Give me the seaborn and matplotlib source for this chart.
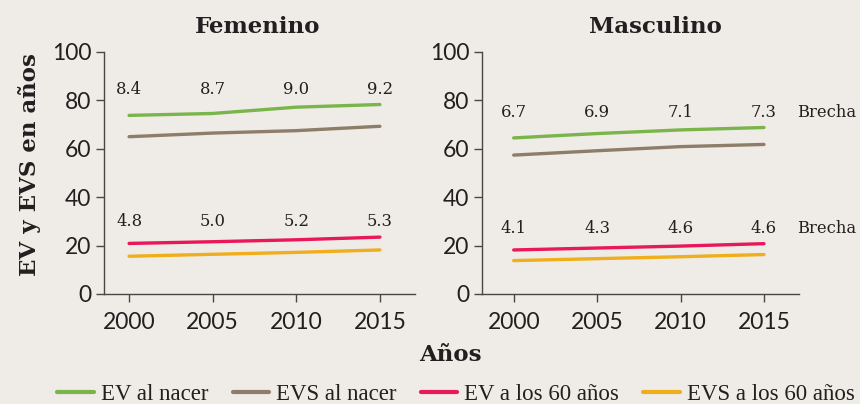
"""Esperanza de vida (EV) y esperanza de vida saludable (EVS), por sexo."""

import matplotlib
matplotlib.use("Agg")

import matplotlib.pyplot as plt
import pandas as pd
import seaborn as sns

# ── Data ─────────────────────────────────────────────────────────────────────
YEARS = [2000, 2005, 2010, 2015]
SERIES = ["EV al nacer", "EVS al nacer", "EV a los 60 años", "EVS a los 60 años"]

FEM_EV_NACER = [73.8, 74.6, 77.2, 78.3]
FEM_EVS_NACER = [65.0, 66.5, 67.5, 69.3]
FEM_EV_60 = [20.9, 21.6, 22.4, 23.5]
FEM_EVS_60 = [15.6, 16.4, 17.2, 18.2]
FEM_BRECHA_NACER = ["8.4", "8.7", "9.0", "9.2"]
FEM_BRECHA_60 = ["4.8", "5.0", "5.2", "5.3"]

MAS_EV_NACER = [64.5, 66.3, 67.8, 68.8]
MAS_EVS_NACER = [57.4, 59.2, 60.9, 61.8]
MAS_EV_60 = [18.2, 19.0, 19.8, 20.8]
MAS_EVS_60 = [13.8, 14.6, 15.4, 16.3]
MAS_BRECHA_NACER = ["6.7", "6.9", "7.1", "7.3"]
MAS_BRECHA_60 = ["4.1", "4.3", "4.6", "4.6"]

# ── Style ────────────────────────────────────────────────────────────────────
sns.set_theme(style="ticks")
_BG = "#efebe6"
_INK = "#231f20"
_AXIS = "#4a4646"
_COLORS = ["#79b54a", "#8d7d69", "#e8185a", "#f0ae1c"]
_SLAB = "DejaVu Serif"
plt.rcParams["font.family"] = ["Lato", "DejaVu Sans"]


def _long(ev, evs, ev60, evs60):
    rows = []
    for name, vals in zip(SERIES, [ev, evs, ev60, evs60]):
        for yr, v in zip(YEARS, vals):
            rows.append({"Año": yr, "Serie": name, "Valor": v})
    return pd.DataFrame(rows)


def _panel(ax, df, title, title_x, top_lbls, bot_lbls, xlim, brecha=False):
    sns.lineplot(
        data=df, x="Año", y="Valor", hue="Serie", hue_order=SERIES,
        palette=_COLORS, linewidth=2.4, legend=False, ax=ax,
    )
    ax.set_facecolor(_BG)
    ax.set_xlim(*xlim)
    ax.set_ylim(0, 100)
    ax.set_xticks(YEARS)
    ax.set_yticks(range(0, 101, 20))
    ax.set_xlabel("")
    ax.set_ylabel("")
    ax.spines[["top", "right"]].set_visible(False)
    for side in ["left", "bottom"]:
        ax.spines[side].set_color(_AXIS)
        ax.spines[side].set_linewidth(1.0)
    ax.tick_params(direction="out", length=6, width=1.0, color=_AXIS,
                   labelsize=16.5, labelcolor=_INK, pad=3)
    ax.tick_params(axis="x", pad=7)
    ax.set_title(title, x=title_x, family=_SLAB, fontweight="bold",
                 fontsize=16.5, color=_INK, pad=14)

    # gap labels above the EV lines
    ev = df[df["Serie"] == SERIES[0]]["Valor"].max()
    ev60 = df[df["Serie"] == SERIES[2]]["Valor"].max()
    for yr, t in zip(YEARS, top_lbls):
        ax.text(yr, ev + 6.3, t, ha="center", va="center", family=_SLAB,
                fontsize=11.8, color=_INK)
    for yr, t in zip(YEARS, bot_lbls):
        ax.text(yr, ev60 + 6.3, t, ha="center", va="center", family=_SLAB,
                fontsize=11.8, color=_INK)
    if brecha:
        for yy in [ev + 6.3, ev60 + 6.3]:
            ax.text(xlim[1] - 0.1, yy, "Brecha", ha="left", va="center",
                    family=_SLAB, fontsize=11.8, color=_INK, clip_on=False)


fig = plt.figure(figsize=(8.6, 4.04), dpi=100, facecolor=_BG)
ax_f = fig.add_axes([104 / 860, 110 / 404, 311 / 860, 242 / 404])
ax_m = fig.add_axes([482 / 860, 110 / 404, 317 / 860, 242 / 404])

_panel(ax_f, _long(FEM_EV_NACER, FEM_EVS_NACER, FEM_EV_60, FEM_EVS_60),
       "Femenino", 0.495, FEM_BRECHA_NACER, FEM_BRECHA_60, (1998.5, 2017.1))
_panel(ax_m, _long(MAS_EV_NACER, MAS_EVS_NACER, MAS_EV_60, MAS_EVS_60),
       "Masculino", 0.546, MAS_BRECHA_NACER, MAS_BRECHA_60, (1998.1, 2017.1),
       brecha=True)

fig.text(30 / 860, 1 - 165 / 404, "EV y EVS en años", rotation=90,
         ha="center", va="center", family=_SLAB, fontweight="bold",
         fontsize=16.5, color=_INK)
fig.text(450 / 860, 1 - 355 / 404, "Años", ha="center", va="center",
         family=_SLAB, fontweight="bold", fontsize=16.5, color=_INK)

handles = [plt.Line2D([], [], color=c, lw=3) for c in _COLORS]
fig.legend(
    handles, SERIES, loc="center", bbox_to_anchor=(456 / 860, 1 - 394 / 404),
    ncol=4, frameon=False, handlelength=1.6, handletextpad=0.3,
    columnspacing=1.05, borderpad=0,
    prop={"family": "Liberation Serif", "size": 16.5},
    labelcolor=_INK,
)

fig.savefig("out.png", dpi=100, facecolor=_BG)
plt.close(fig)
